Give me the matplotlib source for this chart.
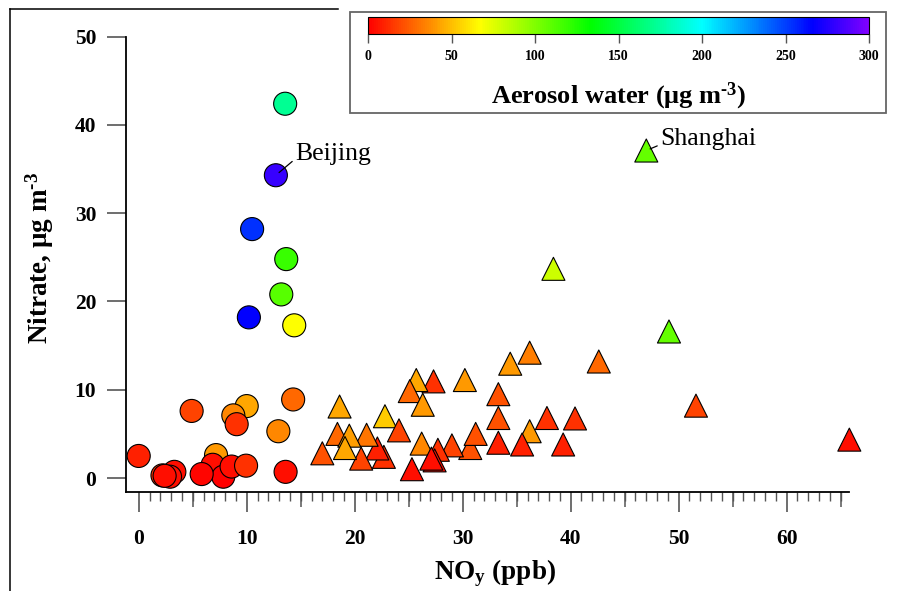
import numpy as np
import matplotlib
matplotlib.use('Agg')
import matplotlib.pyplot as plt
from matplotlib.colors import ListedColormap, Normalize, hsv_to_rgb
from matplotlib.cm import ScalarMappable
from matplotlib.lines import Line2D
from matplotlib.patches import Rectangle
from matplotlib.ticker import FixedLocator

plt.rcParams['font.family'] = ['Liberation Serif', 'DejaVu Serif']
plt.rcParams['mathtext.fontset'] = 'custom'
# every math bit on this chart is bold
plt.rcParams['mathtext.rm'] = 'Liberation Serif:bold'
plt.rcParams['mathtext.bf'] = 'Liberation Serif:bold'
plt.rcParams['mathtext.it'] = 'Liberation Serif:italic'
plt.rcParams['mathtext.default'] = 'bf'

# Beijing (circles): NOy ppb, nitrate ug/m3, aerosol water ug/m3
bj_noy = [13.56, 12.7, 10.5, 13.66, 13.2, 10.2, 14.4, 0.0, 4.9, 10.0, 8.76, 9.07,
          12.93, 14.3, 13.6, 7.16, 6.85, 7.83, 8.6, 9.94, 5.83, 2.2, 3.3, 2.9, 2.4]
bj_no3 = [42.4, 34.3, 28.2, 24.8, 20.8, 18.2, 17.3, 2.5, 7.6, 8.15, 7.1, 6.1,
          5.3, 8.9, 0.7, 2.6, 1.5, 0.15, 1.3, 1.4, 0.45, 0.3, 0.7, 0.15, 0.25]
bj_water = [172, 281, 254, 119, 111, 267, 67, 9, 18, 44, 36, 13,
            36, 27, 4, 40, 4, 0, 4, 13, 2, 13, 4, 4, 4]

# Shanghai (triangles)
sh_noy = [47.0, 38.4, 49.1, 42.6, 36.2, 34.4, 51.6, 33.3, 33.3, 30.2, 27.3, 25.7,
          25.1, 26.3, 18.6, 22.8, 24.1, 37.8, 40.4, 36.2, 30.7, 31.2, 33.3, 35.5,
          39.3, 29.0, 27.7, 26.2, 27.4, 27.1, 25.3, 22.7, 22.1, 21.1, 20.6, 18.4,
          19.5, 19.1, 17.0, 65.8]
sh_no3 = [37.1, 23.7, 16.6, 13.2, 14.2, 12.95, 8.2, 9.5, 6.8, 11.1, 10.95, 11.1,
          9.85, 8.3, 8.1, 7.0, 5.4, 6.8, 6.75, 5.3, 3.4, 5.0, 4.0, 3.8,
          3.8, 3.7, 3.2, 3.9, 2.0, 2.2, 1.0, 2.4, 3.35, 4.9, 2.2, 5.0,
          4.8, 3.4, 2.8, 4.35]
sh_water = [107, 80, 107, 27, 33, 40, 18, 22, 22, 40, 13, 44,
            27, 40, 44, 53, 18, 13, 13, 40, 22, 22, 9, 9,
            9, 18, 13, 36, 4, 4, 4, 13, 9, 31, 18, 27,
            42, 44, 22, 4]

water_ticks = [0, 50, 100, 150, 200, 250, 300]

# red -> yellow -> green -> cyan -> blue -> violet
hues = np.linspace(0, 0.75, 256)
rainbow = ListedColormap(hsv_to_rgb(np.column_stack([hues, np.ones(256), np.ones(256)])))
norm = Normalize(0, 300)

fig = plt.figure(figsize=(8.98, 5.91), dpi=100)
ax = fig.add_axes([0.1398, 0.168, 0.806, 0.770])

ax.scatter(bj_noy, bj_no3, c=bj_water, cmap=rainbow, norm=norm, marker='o', s=275,
           edgecolors='black', linewidths=0.8, zorder=3, clip_on=False)
ax.scatter(sh_noy, sh_no3, c=sh_water, cmap=rainbow, norm=norm, marker='^', s=275,
           edgecolors='black', linewidths=0.8, zorder=3, clip_on=False)

ax.set_xlim(-1.22, 65.8)
ax.set_ylim(-1.55, 50)
ax.set_xticks(np.arange(0, 61, 10))
ax.xaxis.set_minor_locator(FixedLocator(np.arange(0, 66, 1)))
ax.set_yticks(np.arange(0, 51, 10))
tick_col = '#555555'
ax.tick_params(axis='x', which='major', length=14.4, width=1.2, color=tick_col, pad=12.5, labelsize=15.5)
ax.tick_params(axis='x', which='minor', length=6.5, width=1.0, color=tick_col)
ax.tick_params(axis='y', which='major', length=14, width=1.2, color=tick_col, pad=7, labelsize=15.5)
for lab in ax.get_xticklabels() + ax.get_yticklabels():
    lab.set_fontweight('bold')

# medium ticks every 5
mid = ax.secondary_xaxis('bottom')
mid.set_xticks(np.arange(5, 66, 10))
mid.tick_params(length=11, width=1.1, color=tick_col, labelbottom=False)
mid.spines['bottom'].set_visible(False)

for side in ['top', 'right']:
    ax.spines[side].set_visible(False)
for side in ['left', 'bottom']:
    ax.spines[side].set_linewidth(1.3)

ax.set_ylabel(r'Nitrate, μg m$^{\text{-3}}$', fontsize=19.5, fontweight='bold')
ax.yaxis.set_label_coords(-0.096, 0.514)
ax.set_xlabel('NO$_{y}$ (ppb)', fontsize=19.5, fontweight='bold')
ax.xaxis.set_label_coords(0.5105, -0.145)

ax.annotate('Beijing', xy=(bj_noy[1], bj_no3[1]), xytext=(14.47, 36.07), fontsize=18.5,
            ha='left', va='baseline',
            arrowprops=dict(arrowstyle='-', color='k', lw=0.9, shrinkA=0, shrinkB=3, relpos=(0, 0.25)))
ax.annotate('Shanghai', xy=(sh_noy[0], sh_no3[0]), xytext=(48.27, 37.7), fontsize=18.5,
            ha='left', va='baseline',
            arrowprops=dict(arrowstyle='-', color='k', lw=0.9, shrinkA=0, shrinkB=3, relpos=(0, 0.25)))

# colour bar inside a grey box
box = Rectangle((0.3898, 0.8088), 0.597, 0.1714, transform=fig.transFigure,
                facecolor='white', edgecolor='#666666', linewidth=1.3, zorder=1)
fig.add_artist(box)
cax = fig.add_axes([0.4098, 0.9425, 0.558, 0.0288])
cax.set_zorder(2)
cb = fig.colorbar(ScalarMappable(norm=norm, cmap=rainbow), cax=cax, orientation='horizontal',
                  ticks=water_ticks)
cb.outline.set_linewidth(0.8)
cax.tick_params(length=6.5, width=1.0, color=tick_col, pad=5, labelsize=10)
for lab in cax.get_xticklabels():
    lab.set_fontweight('bold')
fig.text(619 / 898, 1 - 96 / 591, r'Aerosol water (μg m$^{\text{-3}}$)', ha='center', va='center',
         fontsize=19, fontweight='bold', zorder=3)

# outer frame remnants
fig.add_artist(Line2D([10 / 898, 10 / 898], [0, 1 - 9.3 / 591], color='k', lw=1.1))
fig.add_artist(Line2D([10 / 898, 338 / 898], [1 - 9.3 / 591, 1 - 9.3 / 591], color='k', lw=1.1))

fig.savefig('out.png', dpi=100)
